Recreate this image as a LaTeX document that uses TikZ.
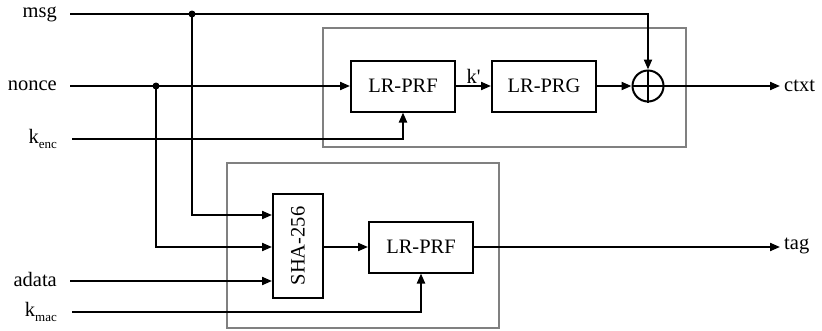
\documentclass[tikz,border=0pt]{standalone}
\usepackage{fontspec}
\setmainfont{Liberation Serif}
\usetikzlibrary{arrows.meta}
\newcommand{\subsc}[1]{\raisebox{-0.45ex}{\fontsize{13}{13}\selectfont #1}}
\tikzset{
  wire/.style={line width=2pt},
  arr/.style={wire,-{Triangle[length=10pt,width=8pt]}},
  frame/.style={draw=black!50,line width=1.5pt},
  blk/.style={draw,line width=2pt,minimum width=104pt,minimum height=51pt,inner sep=0pt},
  lbl/.style={inner sep=0pt,font=\fontsize{20.5}{22}\selectfont},
  dot/.style={circle,fill,inner sep=0pt,minimum size=7pt},
}
\begin{document}
\begin{tikzpicture}[x=1pt,y=-1pt,font=\fontsize{20.5}{22}\selectfont]
\useasboundingbox (0,0) rectangle (822,330);
% enclosing frames
\draw[frame] (323,28) rectangle (686,147);
\draw[frame] (227,163) rectangle (499,328);

% input labels
\node[lbl,anchor=east] (msg) at (57,14) {msg};
\node[lbl,anchor=east] (nonce) at (57,86) {nonce};
\node[lbl,anchor=east] (kenc) at (57,139) {k\subsc{enc}};
\node[lbl,anchor=east] (adata) at (57,279) {adata};
\node[lbl,anchor=east] (kmac) at (57,312) {k\subsc{mac}};

% blocks
\node[blk] (prf1) at (403,86) {LR-PRF};
\node[blk] (prg) at (544,86) {LR-PRG};
\node[draw,circle,line width=2pt,minimum size=31pt,inner sep=0pt] (xor) at (648,86) {};
\draw[line width=1.5pt] (xor.north) -- (xor.south) (xor.west) -- (xor.east);
\node[blk,minimum width=50pt,minimum height=104pt] (sha) at (298,246) {\rotatebox{90}{SHA-256}};
\node[blk] (prf2) at (421,247) {LR-PRF};

% outputs
\node[lbl,anchor=west] (ctxt) at (784,86) {ctxt};
\node[lbl,anchor=west] (tag) at (784,246) {tag};

% wire start points and junctions
\coordinate (msgS) at (70,14);
\coordinate (nonceS) at (70,86);
\coordinate (kencS) at (72,139);
\coordinate (adataS) at (70,281);
\coordinate (kmacS) at (72,312);
\coordinate (jm) at (192,14);
\coordinate (jn) at (156,86);
\coordinate (ctxtE) at (780,86);
\coordinate (tagE) at (780,247);

% encryption path
\draw[arr] (nonceS) -- (prf1.west |- nonceS);
\draw[arr] (kencS) -| (prf1.south);
\draw[arr] (prf1.east) -- node[above=2pt,lbl] {k\textquotesingle} (prg.west);
\draw[arr] (prg.east) -- (xor.west);
\draw[arr] (msgS) -| (xor.north);
\draw[arr] (xor.east) -- (ctxtE);

% authentication path
\draw[arr] (jm) |- (sha.west |- 0,215);
\draw[arr] (jn) |- (sha.west |- 0,247);
\draw[arr] (adataS) -- (sha.west |- adataS);
\draw[arr] (sha.east |- prf2.west) -- (prf2.west);
\draw[arr] (kmacS) -| (prf2.south);
\draw[arr] (prf2.east) -- (tagE);

% junction dots
\node[dot] at (jm) {};
\node[dot] at (jn) {};
\end{tikzpicture}
\end{document}
